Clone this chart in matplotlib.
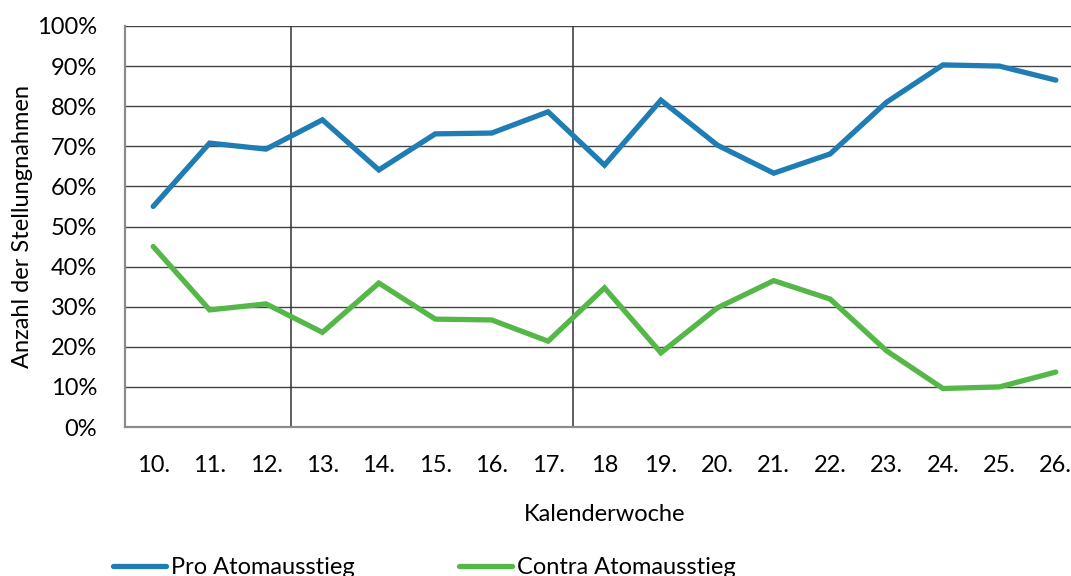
import numpy as np
import matplotlib.pyplot as plt

# Kalenderwochen und Anteile (in %)
wochen = ["10.", "11.", "12.", "13.", "14.", "15.", "16.", "17.", "18",
          "19.", "20.", "21.", "22.", "23.", "24.", "25.", "26."]
pro = [55.0, 70.8, 69.3, 76.6, 64.1, 73.1, 73.3, 78.6, 65.3,
       81.5, 70.3, 63.3, 68.1, 81.0, 90.3, 90.0, 86.5]
contra = [45.0, 29.2, 30.7, 23.6, 35.9, 26.9, 26.7, 21.4, 34.7,
          18.5, 29.7, 36.5, 31.9, 19.0, 9.6, 10.0, 13.7]
trenner = [2.45, 7.45]

plt.rcParams["font.family"] = ["Lato", "DejaVu Sans"]
fs = 17

fig = plt.figure(figsize=(10.71, 5.76), dpi=100)
ax = fig.add_axes([125 / 1071, 149 / 576, 959 / 1071, 401 / 576])

x = np.arange(len(wochen))
ax.plot(x, pro, color="#1f7db3", lw=3.8, solid_capstyle="round",
        solid_joinstyle="miter", label="Pro Atomausstieg", zorder=3)
ax.plot(x, contra, color="#55b747", lw=3.8, solid_capstyle="round",
        solid_joinstyle="miter", label="Contra Atomausstieg", zorder=3)

for t in trenner:
    ax.axvline(t, color="#333333", lw=1.1, zorder=2)

ax.set_xlim(-0.5, len(wochen) - 0.5)
ax.set_ylim(0, 100)
ax.set_yticks(np.arange(0, 101, 10))
ax.set_yticklabels([f"{v}%" for v in range(0, 101, 10)], fontsize=fs)
ax.set_xticks(x)
ax.set_xticklabels(wochen, fontsize=fs)
ax.tick_params(axis="both", length=0)
ax.tick_params(axis="x", pad=20)
ax.tick_params(axis="y", pad=20)
ax.grid(axis="y", color="#444444", lw=1.0, zorder=1)
ax.set_axisbelow(True)

for s in ["top", "right"]:
    ax.spines[s].set_visible(False)
for s in ["left", "bottom"]:
    ax.spines[s].set_color("#8c8c8c")
    ax.spines[s].set_linewidth(1.6)

ax.set_xlabel("Kalenderwoche", fontsize=fs, labelpad=20)
ax.set_ylabel("Anzahl der Stellungnahmen", fontsize=fs, labelpad=3)

fig.legend(loc="lower left", bbox_to_anchor=(92 / 1071, -0.04), ncol=2,
           frameon=False, fontsize=fs, handlelength=2.25, handletextpad=0.2,
           columnspacing=4.4)

fig.savefig("out.png", dpi=100)
